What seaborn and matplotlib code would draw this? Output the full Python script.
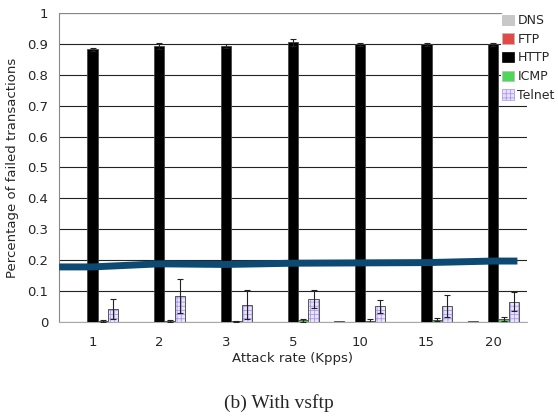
import numpy as np
import pandas as pd
import seaborn as sns
import matplotlib.pyplot as plt
from matplotlib.patches import Patch, Rectangle
from matplotlib.ticker import FuncFormatter, FixedLocator

# ---------------------- Data ------------------------
rates = ["1", "2", "3", "5", "10", "15", "20"]
protocols = ["DNS", "FTP", "HTTP", "ICMP", "Telnet"]

dns_mean = [0.0, 0.0, 0.0, 0.0, 0.003, 0.0, 0.003]
ftp_mean = [0.0, 0.0, 0.0, 0.0, 0.0, 0.0, 0.0]
http_mean = [0.883, 0.893, 0.893, 0.905, 0.898, 0.898, 0.898]
icmp_mean = [0.003, 0.003, 0.002, 0.005, 0.002, 0.007, 0.010]
telnet_mean = [0.043, 0.084, 0.055, 0.075, 0.050, 0.051, 0.066]

dns_err = [0.0, 0.0, 0.0, 0.0, 0.0, 0.0, 0.0]
ftp_err = [0.0, 0.0, 0.0, 0.0, 0.0, 0.0, 0.0]
http_err = [0.005, 0.010, 0.007, 0.012, 0.006, 0.006, 0.005]
icmp_err = [0.002, 0.002, 0.001, 0.006, 0.006, 0.005, 0.006]
telnet_err = [0.032, 0.056, 0.047, 0.029, 0.022, 0.035, 0.030]

# thick trend line across the chart
line_vals = [0.178, 0.188, 0.186, 0.190, 0.191, 0.192, 0.197]

colors = {"DNS": "#c8c8c8", "FTP": "#e24a45", "HTTP": "#000000",
          "ICMP": "#4ed857", "Telnet": "#e8e2fd"}
hatch_col = "#aa98ee"

means = [dns_mean, ftp_mean, http_mean, icmp_mean, telnet_mean]
errs = [dns_err, ftp_err, http_err, icmp_err, telnet_err]

rows = []
for p, m, e in zip(protocols, means, errs):
    for r, v, ev in zip(rates, m, e):
        rows.append({"rate": r, "protocol": p, "value": v, "err": ev})
df = pd.DataFrame(rows)

# ---------------------- Plot ------------------------
sns.set_style("white")
plt.rcParams["font.family"] = ["DejaVu Sans"]
plt.rcParams["hatch.linewidth"] = 0.6

fig = plt.figure(figsize=(5.58, 4.17), dpi=100)
ax = fig.add_axes([0.106, 0.228, 0.838, 0.741])

sns.barplot(data=df, x="rate", y="value", hue="protocol", order=rates,
            hue_order=protocols, palette=colors, errorbar=None,
            width=0.77, gap=0, edgecolor="#444444", linewidth=0.6,
            legend=False, ax=ax, zorder=3)

for cont, p, e in zip(ax.containers, protocols, errs):
    xs = [b.get_x() + b.get_width() / 2 for b in cont]
    ys = [b.get_height() for b in cont]
    if p == "Telnet":
        for b in cont:
            # hatch takes the edge colour, so draw the outline separately
            b.set_hatch("++++")
            b.set_edgecolor(hatch_col)
            b.set_linewidth(0)
            ax.add_patch(Rectangle(b.get_xy(), b.get_width(), b.get_height(),
                                   fill=False, edgecolor="#555555",
                                   linewidth=0.7, zorder=3.5))
    if max(e) > 0:
        ax.errorbar(xs, ys, yerr=e, fmt="none", ecolor="#222222",
                    elinewidth=0.8, capsize=2.5, capthick=0.8, zorder=4)

# trend line, stretched to the plot edges
lx = [-0.5] + list(range(len(rates))) + [6.36]
ly = [line_vals[0]] + line_vals + [line_vals[-1]]
ax.plot(lx, ly, color="#0c4a74", linewidth=5, solid_capstyle="butt", zorder=5)

ax.set_xlim(-0.5, 6.5)
ax.set_ylim(0, 1)
ax.set_yticks(np.arange(0, 1.01, 0.1))
ax.yaxis.set_major_formatter(FuncFormatter(lambda v, _: "0" if v == 0 else ("1" if v >= 0.999 else f"{v:.1f}")))
ax.yaxis.grid(True, color="#222222", linewidth=0.8, zorder=0)
ax.set_axisbelow(True)

ax.xaxis.set_minor_locator(FixedLocator(np.arange(-0.5, 6.6, 1)))
ax.tick_params(axis="x", which="major", length=0, pad=10, labelsize=9.5)
ax.tick_params(axis="x", which="minor", length=5, color="#aaaaaa", width=0.8)
ax.tick_params(axis="y", length=0, labelsize=9.5, pad=8)

for s in ["top", "right"]:
    ax.spines[s].set_visible(False)
ax.spines["left"].set_color("#888888")
ax.spines["bottom"].set_color("#aaaaaa")
ax.axhline(1.0, color="#888888", linewidth=0.8, zorder=1)

ax.set_xlabel("Attack rate (Kpps)", fontsize=9.5, labelpad=2)
ax.set_ylabel("Percentage of failed transactions", fontsize=9.5, labelpad=6)

handles = []
for p in protocols:
    if p == "Telnet":
        h = Patch(facecolor=colors[p], edgecolor=hatch_col, linewidth=0.5, hatch="++++")
    else:
        h = Patch(facecolor=colors[p], edgecolor="#bbbbbb" if p != "HTTP" else "black",
                  linewidth=0.5)
    handles.append(h)
leg = ax.legend(handles, protocols, loc="upper left", bbox_to_anchor=(0.945, 1.0),
                frameon=True, framealpha=1, edgecolor="none", fontsize=9,
                handlelength=0.9, handleheight=0.9, handletextpad=0.3,
                labelspacing=0.45, borderpad=0.1, borderaxespad=0)
leg.get_frame().set_facecolor("white")
leg.set_zorder(10)

fig.text(0.5, 0.022, "(b) With vsftp", ha="center", fontsize=14,
         family=["Liberation Serif"])

fig.savefig("out.png", dpi=100)
